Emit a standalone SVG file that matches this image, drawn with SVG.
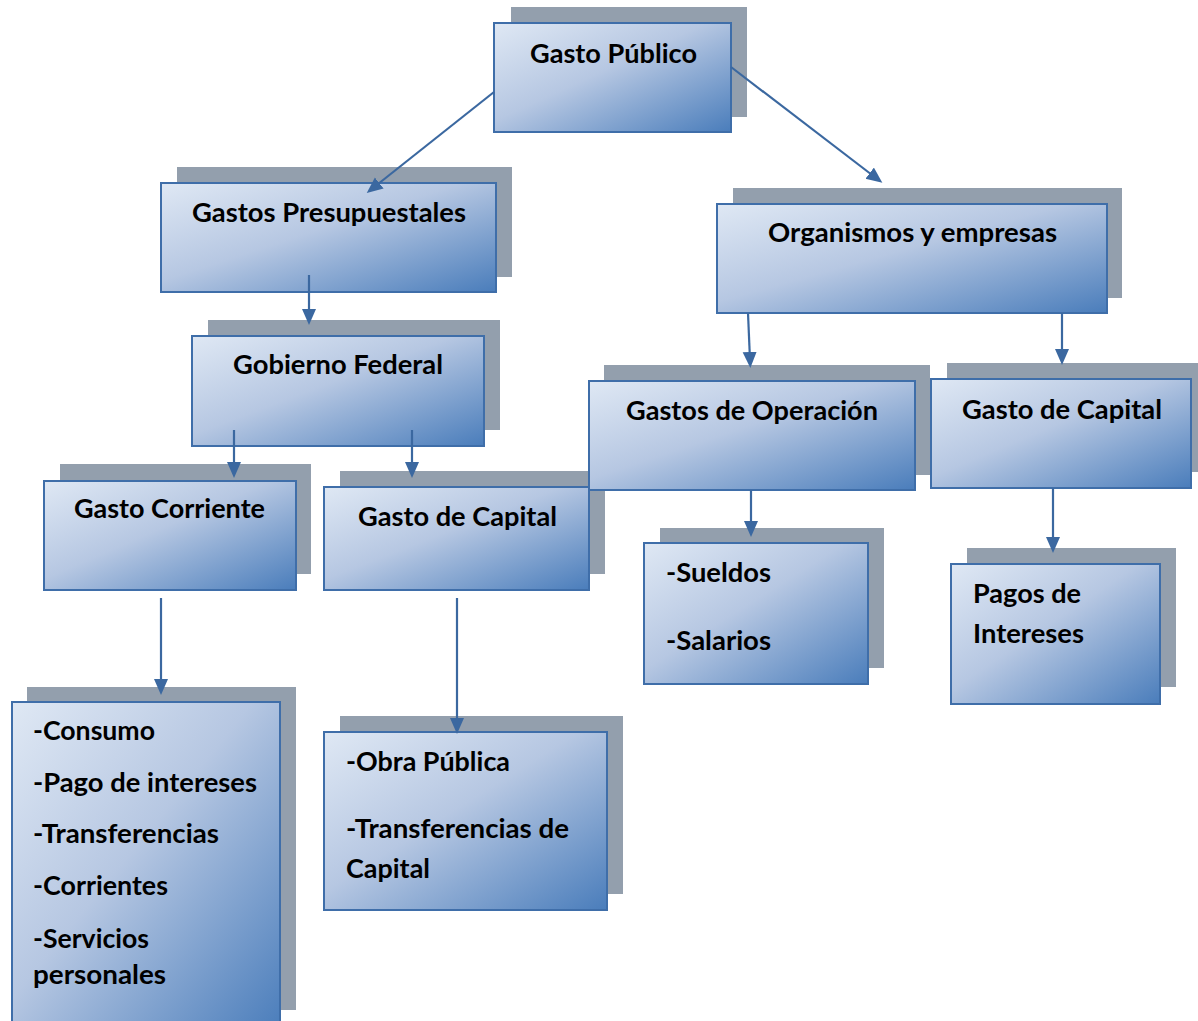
<svg xmlns="http://www.w3.org/2000/svg" width="1198" height="1021" viewBox="0 0 1198 1021">
<defs>
<linearGradient id="g" x1="0" y1="0" x2="1" y2="1">
<stop offset="0" stop-color="#dfe8f4"/>
<stop offset="0.45" stop-color="#b6c7e2"/>
<stop offset="1" stop-color="#4a7dbb"/>
</linearGradient>
<marker id="ah" markerUnits="userSpaceOnUse" markerWidth="18" markerHeight="16" refX="8" refY="7" orient="auto">
<path d="M0,0 L16,7 L0,14 z" fill="#3b68a0"/>
</marker>
<style>
.sh{fill:#939fad}
.bx{fill:url(#g);stroke:#3f6ea9;stroke-width:2}
text{font-family:Lato,"Liberation Sans",sans-serif;font-weight:700;font-size:26px;fill:#000}
.c{text-anchor:middle}
.cn line{stroke:#3b68a0;stroke-width:2.2;marker-end:url(#ah)}
</style>
</defs>
<rect width="1198" height="1021" fill="#fff"/>

<g id="gasto-publico">
<rect class="sh" x="511" y="7" width="236" height="110"/>
<rect class="bx" x="494" y="23" width="237" height="109"/>
<text class="c" x="613.5" y="63" textLength="167" lengthAdjust="spacingAndGlyphs">Gasto Público</text>
</g>
<g id="gastos-presupuestales">
<rect class="sh" x="177" y="167" width="335" height="110"/>
<rect class="bx" x="161" y="183" width="335" height="109"/>
<text class="c" x="329" y="222" textLength="274" lengthAdjust="spacingAndGlyphs">Gastos Presupuestales</text>
</g>
<g id="gobierno-federal">
<rect class="sh" x="208" y="320" width="292" height="110"/>
<rect class="bx" x="192" y="336" width="292" height="110"/>
<text class="c" x="338" y="374" textLength="210" lengthAdjust="spacingAndGlyphs">Gobierno Federal</text>
</g>
<g id="gasto-corriente">
<rect class="sh" x="60" y="464" width="251" height="110"/>
<rect class="bx" x="44" y="481" width="252" height="109"/>
<text class="c" x="169.5" y="518" textLength="191" lengthAdjust="spacingAndGlyphs">Gasto Corriente</text>
</g>
<g id="gasto-capital-1">
<rect class="sh" x="340" y="471" width="265" height="103"/>
<rect class="bx" x="324" y="487" width="265" height="103"/>
<text class="c" x="457.5" y="526" textLength="199" lengthAdjust="spacingAndGlyphs">Gasto de Capital</text>
</g>
<g id="organismos">
<rect class="sh" x="733" y="188" width="389" height="110"/>
<rect class="bx" x="717" y="204" width="390" height="109"/>
<text class="c" x="912.5" y="242" textLength="289" lengthAdjust="spacingAndGlyphs">Organismos y empresas</text>
</g>
<g id="gastos-operacion">
<rect class="sh" x="604" y="365" width="326" height="110"/>
<rect class="bx" x="589" y="381" width="326" height="109"/>
<text class="c" x="752" y="420" textLength="252" lengthAdjust="spacingAndGlyphs">Gastos de Operación</text>
</g>
<g id="gasto-capital-2">
<rect class="sh" x="947" y="363" width="251" height="109"/>
<rect class="bx" x="931" y="379" width="260" height="109"/>
<text class="c" x="1062" y="419" textLength="200" lengthAdjust="spacingAndGlyphs">Gasto de Capital</text>
</g>
<g id="sueldos">
<rect class="sh" x="660" y="528" width="224" height="140"/>
<rect class="bx" x="644" y="543" width="224" height="141"/>
<text x="666" y="582" textLength="105" lengthAdjust="spacingAndGlyphs">-Sueldos</text>
<text x="666" y="650" textLength="105" lengthAdjust="spacingAndGlyphs">-Salarios</text>
</g>
<g id="pagos-intereses">
<rect class="sh" x="967" y="548" width="209" height="139"/>
<rect class="bx" x="951" y="564" width="209" height="140"/>
<text x="973" y="603" textLength="108" lengthAdjust="spacingAndGlyphs">Pagos de</text>
<text x="973" y="643" textLength="111" lengthAdjust="spacingAndGlyphs">Intereses</text>
</g>
<g id="lista-corriente">
<rect class="sh" x="27" y="687" width="269" height="323"/>
<rect class="bx" x="12" y="702" width="268" height="330"/>
<text x="33" y="740" textLength="122" lengthAdjust="spacingAndGlyphs">-Consumo</text>
<text x="33" y="792" textLength="224" lengthAdjust="spacingAndGlyphs">-Pago de intereses</text>
<text x="33" y="843" textLength="186" lengthAdjust="spacingAndGlyphs">-Transferencias</text>
<text x="33" y="895" textLength="135" lengthAdjust="spacingAndGlyphs">-Corrientes</text>
<text x="33" y="948" textLength="116" lengthAdjust="spacingAndGlyphs">-Servicios</text>
<text x="33" y="984" textLength="133" lengthAdjust="spacingAndGlyphs">personales</text>
</g>
<g id="lista-capital">
<rect class="sh" x="340" y="716" width="283" height="178"/>
<rect class="bx" x="324" y="732" width="283" height="178"/>
<text x="346" y="771" textLength="164" lengthAdjust="spacingAndGlyphs">-Obra Pública</text>
<text x="346" y="838" textLength="223" lengthAdjust="spacingAndGlyphs">-Transferencias de</text>
<text x="346" y="878" textLength="84" lengthAdjust="spacingAndGlyphs">Capital</text>
</g>

<g id="connectors" class="cn">
<line x1="494" y1="92" x2="373" y2="188"/>
<line x1="731" y1="67" x2="876" y2="178"/>
<line x1="309" y1="275" x2="309" y2="317"/>
<line x1="234" y1="430" x2="234" y2="470"/>
<line x1="412" y1="430" x2="412" y2="470"/>
<line x1="161" y1="598" x2="161" y2="687"/>
<line x1="457" y1="598" x2="457" y2="726"/>
<line x1="748" y1="313" x2="750" y2="360"/>
<line x1="1062" y1="313" x2="1062" y2="357"/>
<line x1="751" y1="490" x2="751" y2="529"/>
<line x1="1053" y1="488" x2="1053" y2="545"/>
</g>
</svg>
